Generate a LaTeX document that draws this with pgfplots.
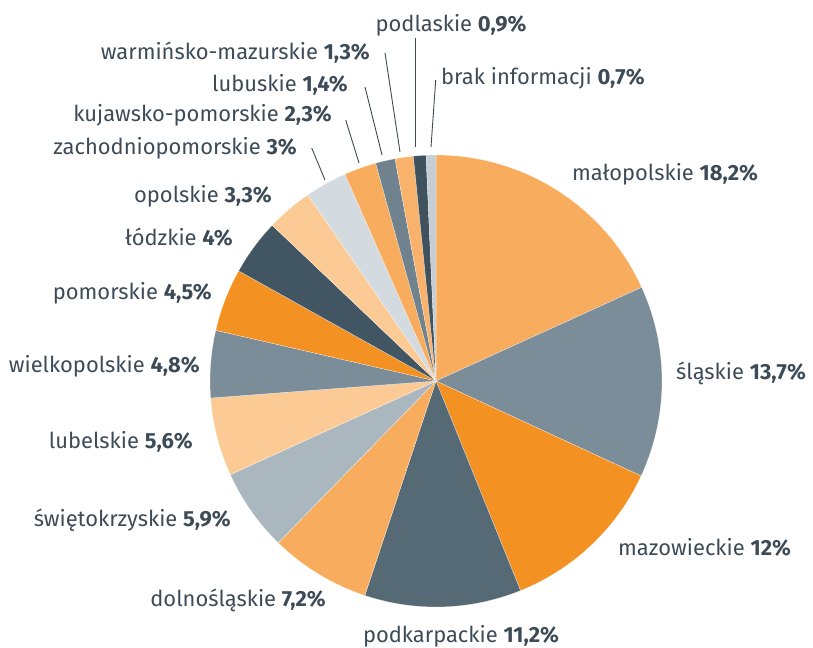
\documentclass[border=0pt]{standalone}
\usepackage{fontspec}
\setmainfont{Fira Sans}
\usepackage{pgfplots}
\pgfplotsset{compat=1.18}
\definecolor{lor}{HTML}{F8AD5E}
\definecolor{gbl}{HTML}{7B8D99}
\definecolor{org}{HTML}{F39222}
\definecolor{dsl}{HTML}{566A76}
\definecolor{lgb}{HTML}{AAB7BF}
\definecolor{por}{HTML}{FCCA94}
\definecolor{drk}{HTML}{415562}
\definecolor{lgr}{HTML}{D3DAE0}
\definecolor{gbd}{HTML}{6F828E}
\definecolor{lor2}{HTML}{F8B26B}
\definecolor{drk2}{HTML}{3F525E}
\definecolor{lgr2}{HTML}{C6CED4}
\definecolor{txt}{HTML}{3D4B57}
\tikzset{lbl/.style={text=txt, font=\fontsize{22}{26}\selectfont, inner sep=0pt},
  ldr/.style={draw=txt, line width=0.9bp}}
% start (cumulative %), value (%), colour
\newcommand{\slice}[3]{\addplot[fill=#3, draw=white, line width=0.15bp, domain=90-3.6*(#1+#2):90-3.6*(#1), samples=80] ({226*cos(x)},{226*sin(x)}) -- (0,0) -- cycle;}
\begin{document}
\begin{tikzpicture}
\begin{axis}[x=1bp, y=1bp, xmin=-436, xmax=377, ymin=-267, ymax=381, hide axis, clip=false]
\path (-436,-267) rectangle (377,381);
\slice{0}{18.2}{lor}
\slice{18.2}{13.7}{gbl}
\slice{31.9}{12}{org}
\slice{43.9}{11.2}{dsl}
\slice{55.1}{7.2}{lor}
\slice{62.3}{5.9}{lgb}
\slice{68.2}{5.6}{por}
\slice{73.8}{4.8}{gbl}
\slice{78.6}{4.5}{org}
\slice{83.1}{4}{drk}
\slice{87.1}{3.3}{por}
\slice{90.4}{3}{lgr}
\slice{93.4}{2.3}{lor}
\slice{95.7}{1.4}{gbd}
\slice{97.1}{1.3}{lor2}
\slice{98.4}{0.9}{drk2}
\slice{99.3}{0.7}{lgr2}
% leader lines
\draw[ldr] (-21,343) -- (-21,234);
\draw[ldr] (-0.3,301) -- (-5,234);
\draw[ldr] (-51,328) -- (-36,229);
\draw[ldr] (-71,294) -- (-54,226);
\draw[ldr] (-90.3,261) -- (-77,218);
\draw[ldr] (-124.3,233) -- (-111,201);
% labels
\node[lbl, anchor=base] at (15,349) {podlaskie \textbf{0,9\%}};
\node[lbl, anchor=base west] at (5,296) {brak informacji \textbf{0,7\%}};
\node[lbl, anchor=base east] at (-66,321) {warmińsko-mazurskie \textbf{1,3\%}};
\node[lbl, anchor=base east] at (-88,289) {lubuskie \textbf{1,4\%}};
\node[lbl, anchor=base east] at (-104,259) {kujawsko-pomorskie \textbf{2,3\%}};
\node[lbl, anchor=base east] at (-139,226) {zachodniopomorskie \textbf{3\%}};
\node[lbl, anchor=base east] at (-164,178) {opolskie \textbf{3,3\%}};
\node[lbl, anchor=base east] at (-203,135) {łódzkie \textbf{4\%}};
\node[lbl, anchor=base east] at (-224,81) {pomorskie \textbf{4,5\%}};
\node[lbl, anchor=base east] at (-236,8) {wielkopolskie \textbf{4,8\%}};
\node[lbl, anchor=base east] at (-243,-68) {lubelskie \textbf{5,6\%}};
\node[lbl, anchor=base east] at (-205,-146) {świętokrzyskie \textbf{5,9\%}};
\node[lbl, anchor=base east] at (-110,-226) {dolnośląskie \textbf{7,2\%}};
\node[lbl, anchor=base] at (25,-262) {podkarpackie \textbf{11,2\%}};
\node[lbl, anchor=base west] at (136,200) {małopolskie \textbf{18,2\%}};
\node[lbl, anchor=base west] at (240,1) {śląskie \textbf{13,7\%}};
\node[lbl, anchor=base west] at (182,-175) {mazowieckie \textbf{12\%}};
\end{axis}
\end{tikzpicture}
\end{document}
